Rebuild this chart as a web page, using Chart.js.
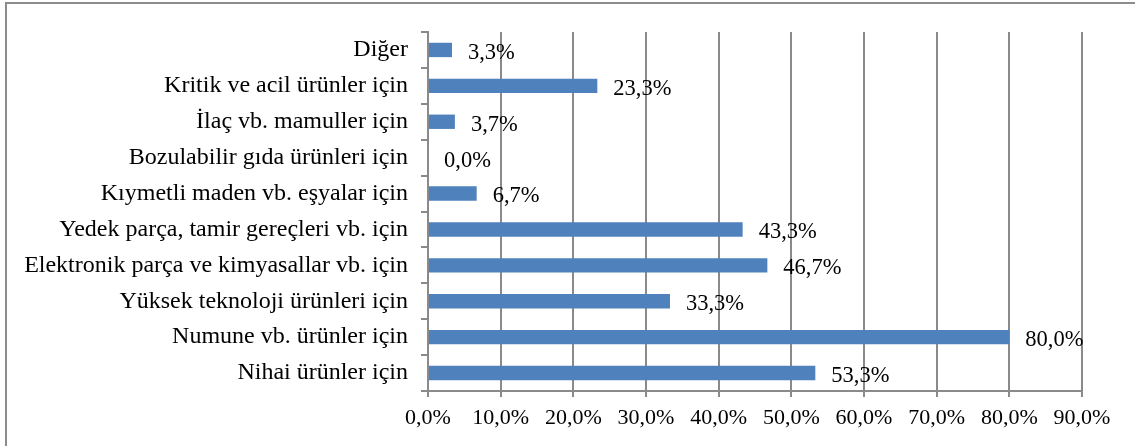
<!DOCTYPE html>
<html>
<head>
<meta charset="utf-8">
<script src="https://cdn.jsdelivr.net/npm/chart.js@4.4.1/dist/chart.umd.min.js"></script>
<style>
  html, body { margin: 0; padding: 0; background: #fff; }
  #wrap { position: relative; width: 1135px; height: 446px; overflow: hidden; }
  #frame { position: absolute; left: 5px; top: 2px; right: -4px; bottom: -4px;
           border-top: 2px solid #8c8c8c; border-left: 2px solid #8c8c8c; }
  canvas { position: absolute; left: 0; top: 0; }
</style>
</head>
<body>
<div id="wrap">
  <div id="frame"></div>
  <canvas id="chart" width="1135" height="446"></canvas>
</div>
<script>
// categories, top to bottom
const categories = [
  'Diğer',
  'Kritik ve acil ürünler için',
  'İlaç vb. mamuller için',
  'Bozulabilir gıda ürünleri için',
  'Kıymetli maden vb. eşyalar için',
  'Yedek parça, tamir gereçleri vb. için',
  'Elektronik parça ve kimyasallar vb. için',
  'Yüksek teknoloji ürünleri için',
  'Numune vb. ürünler için',
  'Nihai ürünler için'
];
const shares = [3.3, 23.3, 3.7, 0.0, 6.7, 43.3, 46.7, 33.3, 80.0, 53.3];
const xTickValues = [0, 10, 20, 30, 40, 50, 60, 70, 80, 90];

const SERIF = "'Liberation Serif', 'Times New Roman', serif";
const FONT = { family: SERIF, size: 22 };
const CAT_FONT = { family: SERIF, size: 24 };
const GRID = '#8a8a8a';
const BAR = '#4f81bd';

const fmt = v => v.toFixed(1).replace('.', ',') + '%';

// value labels to the right of each bar
const valueLabels = {
  id: 'valueLabels',
  afterDatasetsDraw(chart) {
    const ctx = chart.ctx;
    const meta = chart.getDatasetMeta(0);
    ctx.save();
    ctx.font = '22.5px ' + SERIF;
    ctx.fillStyle = '#000';
    ctx.textAlign = 'left';
    ctx.textBaseline = 'middle';
    meta.data.forEach((bar, i) => {
      ctx.fillText(fmt(shares[i]), bar.x + 16, bar.y + 3);
    });
    ctx.restore();
  }
};

new Chart(document.getElementById('chart'), {
  type: 'bar',
  data: {
    labels: categories,
    datasets: [{
      data: shares,
      backgroundColor: BAR,
      borderWidth: 0,
      categoryPercentage: 1,
      barPercentage: 0.4
    }]
  },
  options: {
    indexAxis: 'y',
    responsive: false,
    animation: false,
    layout: { padding: { left: 0, top: 32, right: 53, bottom: 0 } },
    plugins: { legend: { display: false }, tooltip: { enabled: false } },
    scales: {
      x: {
        min: 0, max: 90,
        afterBuildTicks: s => { s.ticks = xTickValues.map(v => ({ value: v })); },
        afterFit: s => { s.height = 55; },
        border: { display: true, color: GRID, width: 2 },
        grid: { color: GRID, lineWidth: 2, tickLength: 6, drawTicks: true },
        ticks: { font: FONT, color: '#000', padding: 8, maxRotation: 0, callback: v => fmt(v) }
      },
      y: {
        afterFit: s => { s.width = 428; },
        border: { display: true, color: GRID, width: 2 },
        grid: { drawOnChartArea: false, offset: true, color: GRID, lineWidth: 2, tickLength: 7 },
        ticks: { font: CAT_FONT, color: '#000', padding: 13, autoSkip: false }
      }
    }
  },
  plugins: [valueLabels]
});
</script>
</body>
</html>
